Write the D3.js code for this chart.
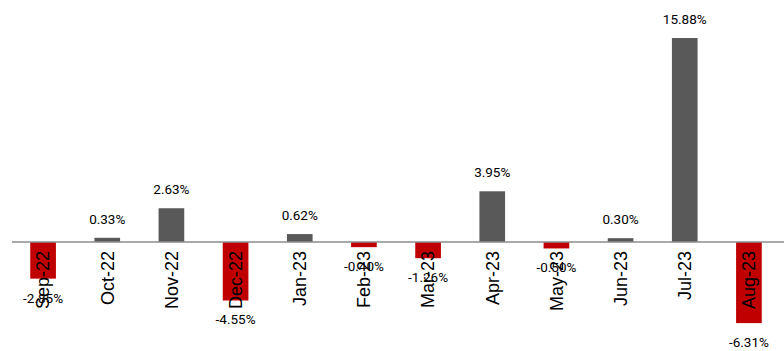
<!DOCTYPE html>
<html>
<head>
<meta charset="utf-8">
<script src="https://cdn.jsdelivr.net/npm/d3@7"></script>
<style>
  html, body { margin: 0; padding: 0; background: #fff; }
  svg { display: block; }
</style>
</head>
<body>
<svg id="chart" width="784" height="351"></svg>
<script>
// Monthly returns (%)
const months = ["Sep-22", "Oct-22", "Nov-22", "Dec-22", "Jan-23", "Feb-23",
                "Mar-23", "Apr-23", "May-23", "Jun-23", "Jul-23", "Aug-23"];
const returns = [-2.85, 0.33, 2.63, -4.55, 0.62, -0.40,
                 -1.26, 3.95, -0.50, 0.30, 15.88, -6.31];
const valueLabels = ["-2.85%", "0.33%", "2.63%", "-4.55%", "0.62%", "-0.40%",
                     "-1.26%", "3.95%", "-0.50%", "0.30%", "15.88%", "-6.31%"];

const data = months.map((m, i) => ({ month: m, value: returns[i], label: valueLabels[i] }));

const svg = d3.select("#chart");
const W = 784;

const x = d3.scaleBand()
  .domain(months)
  .range([11, 781])
  .paddingInner(0.6)
  .paddingOuter(0.3);

const y = d3.scaleLinear()
  .domain([-8, 18])
  .range([344.8, 10.8]);

const posColor = "#595959";
const negColor = "#C00000";

// bars
svg.append("g")
  .selectAll("rect")
  .data(data)
  .join("rect")
  .attr("x", d => x(d.month))
  .attr("width", x.bandwidth())
  .attr("y", d => y(Math.max(0, d.value)))
  .attr("height", d => Math.abs(y(d.value) - y(0)))
  .attr("fill", d => d.value >= 0 ? posColor : negColor);

// zero line
svg.append("line")
  .attr("x1", 12).attr("x2", W)
  .attr("y1", y(0)).attr("y2", y(0))
  .attr("stroke", "#8c8c8c")
  .attr("stroke-width", 1.5);

// category labels, rotated, hanging below the zero line
const xAxis = d3.axisBottom(x).tickSize(0).tickPadding(0);
const gx = svg.append("g")
  .attr("transform", `translate(0,${y(0)})`)
  .call(xAxis);
gx.select(".domain").remove();
gx.selectAll("text")
  .attr("transform", "rotate(-90)")
  .attr("x", -9)
  .attr("y", 0)
  .attr("dy", "0.35em")
  .attr("text-anchor", "end")
  .attr("fill", "#000")
  .style("font-family", "'Liberation Sans Narrow', 'Arial Narrow', 'Liberation Sans', Arial, sans-serif")
  .style("font-size", "18px");

// value labels
svg.append("g")
  .selectAll("text")
  .data(data)
  .join("text")
  .attr("x", d => x(d.month) + x.bandwidth() / 2)
  .attr("y", d => d.value >= 0 ? y(d.value) - 14 : y(d.value) + 24)
  .attr("text-anchor", "middle")
  .attr("fill", "#000")
  .style("font-family", "Roboto, 'Liberation Sans', Arial, sans-serif")
  .style("font-size", "13.5px")
  .text(d => d.label);
</script>
</body>
</html>
